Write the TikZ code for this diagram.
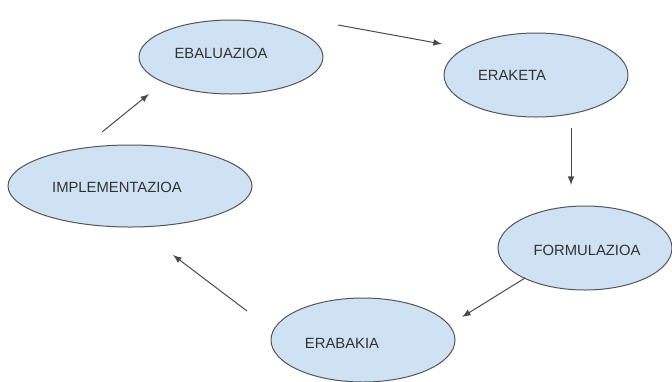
\documentclass[tikz,border=0pt]{standalone}
\usepackage{fontspec}
\setmainfont{Liberation Sans}
\usetikzlibrary{shapes.geometric}
\definecolor{bubble}{HTML}{CFE2F3}
\definecolor{rim}{HTML}{555555}
\definecolor{ink}{HTML}{333333}
\definecolor{arrowgray}{HTML}{4A4A4A}
\begin{document}
\begin{tikzpicture}[x=0.5pt, y=-0.5pt]
\tikzset{ >=latex, inner sep=0pt, outer sep=0pt,
  phase/.style={ellipse, draw=rim, line width=0.5pt, fill=bubble},
  phasetext/.style={text=ink, font=\fontsize{7.4}{9}\selectfont},
  flow/.style={->, draw=arrowgray, line width=0.5pt} }
\useasboundingbox (0,0) rectangle (672,381);
%\draw [lightgray, dashed](0,0) grid [step=50] (672,381);

\node [phase, minimum width=92pt, minimum height=37pt] (EBAL) at (231,57)  {};
\node [phase, minimum width=92pt, minimum height=42pt] (ERAK) at (536,75)  {};
\node [phase, minimum width=87pt, minimum height=42pt] (FORM) at (585,248) {};
\node [phase, minimum width=92pt, minimum height=42pt] (ERAB) at (363,340) {};
\node [phase, minimum width=122pt, minimum height=41pt] (IMPL) at (130,186) {};

\node [phasetext] (EBALt) at ([shift={(-10,-4)}]EBAL.center) {EBALUAZIOA};
\node [phasetext] (ERAKt) at ([shift={(-24,0)}]ERAK.center)  {ERAKETA};
\node [phasetext] (FORMt) at ([shift={(2,2)}]FORM.center)    {FORMULAZIOA};
\node [phasetext] (ERABt) at ([shift={(-21,3)}]ERAB.center)  {ERABAKIA};
\node [phasetext] (IMPLt) at ([shift={(-13,1)}]IMPL.center)  {IMPLEMENTAZIOA};

% the cycle, arrows leave a gap to the ellipses
\draw [flow] ([shift={(107,-32)}]EBAL.center) -- ([shift={(-94,-31)}]ERAK.center);
\draw [flow] ([shift={(35,53)}]ERAK.center)   -- ([shift={(-14,-63)}]FORM.center);
\draw [flow] ([shift={(-60,30)}]FORM.center)  -- ([shift={(99,-23)}]ERAB.center);
\draw [flow] ([shift={(-116,-29)}]ERAB.center) -- ([shift={(43,69)}]IMPL.center);
\draw [flow] ([shift={(-28,-54)}]IMPL.center) -- ([shift={(-82,37)}]EBAL.center);

\end{tikzpicture}
\end{document}
